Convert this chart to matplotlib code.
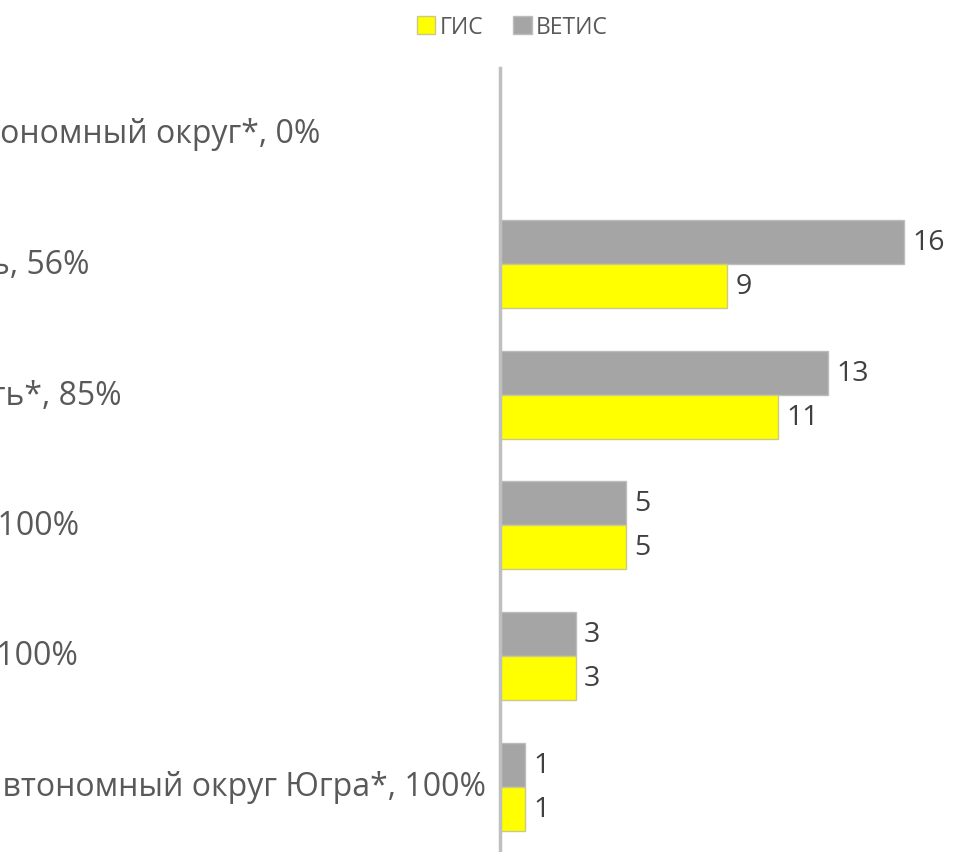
import matplotlib.pyplot as plt
import numpy as np

plt.rcParams['font.family'] = ['Open Sans', 'DejaVu Sans']

GIS_COLOR = '#ffff00'
VETIS_COLOR = '#a5a5a5'
TEXT_COLOR = '#595959'

categories = [
    'Ямало-Ненецкий автономный округ*, 0%',
    'Челябинская область, 56%',
    'Свердловская область*, 85%',
    'Курганская область, 100%',
    'Тюменская область, 100%',
    'Ханты-Мансийский автономный округ Югра*, 100%',
]
gis = [np.nan, 9, 11, 5, 3, 1]
vetis = [np.nan, 16, 13, 5, 3, 1]

fig = plt.figure(figsize=(9.56, 8.53), dpi=100)
ax = fig.add_axes([500 / 956, 0, 456 / 956, 784 / 853])

y = np.arange(len(categories))
h = 0.337

bars_vetis = ax.barh(y - h / 2, vetis, height=h, color=VETIS_COLOR,
                     edgecolor='#bdbdbd', linewidth=1, label='ВЕТИС')
bars_gis = ax.barh(y + h / 2, gis, height=h, color=GIS_COLOR,
                   edgecolor='#c9c98a', linewidth=1, label='ГИС')

ax.bar_label(bars_vetis, padding=6, fontsize=20.5, color='#404040')
ax.bar_label(bars_gis, padding=6, fontsize=20.5, color='#404040')

ax.set_xlim(0, 456 / 25.25)
ax.set_ylim(len(categories) - 0.5, -0.5)

for side in ['top', 'right', 'bottom']:
    ax.spines[side].set_visible(False)
ax.spines['left'].set_color('#bfbfbf')
ax.spines['left'].set_linewidth(2.5)
ax.set_xticks([])
ax.set_yticks([])

# category labels run off the left edge of the picture, as in the source
for yi, name in zip(y, categories):
    fig.text(-326 / 956, ax.transData.transform((0, yi))[1] / 853, name,
             ha='left', va='center', fontsize=23, color=TEXT_COLOR)

handles = [bars_gis, bars_vetis]
fig.legend(handles, ['ГИС', 'ВЕТИС'], loc='center', bbox_to_anchor=(0.536, 0.967),
           ncol=2, frameon=False, fontsize=16.5, labelcolor=TEXT_COLOR,
           handlelength=0.8, handleheight=0.8, handletextpad=0.2, columnspacing=1.3)

fig.savefig('out.png', dpi=100)
